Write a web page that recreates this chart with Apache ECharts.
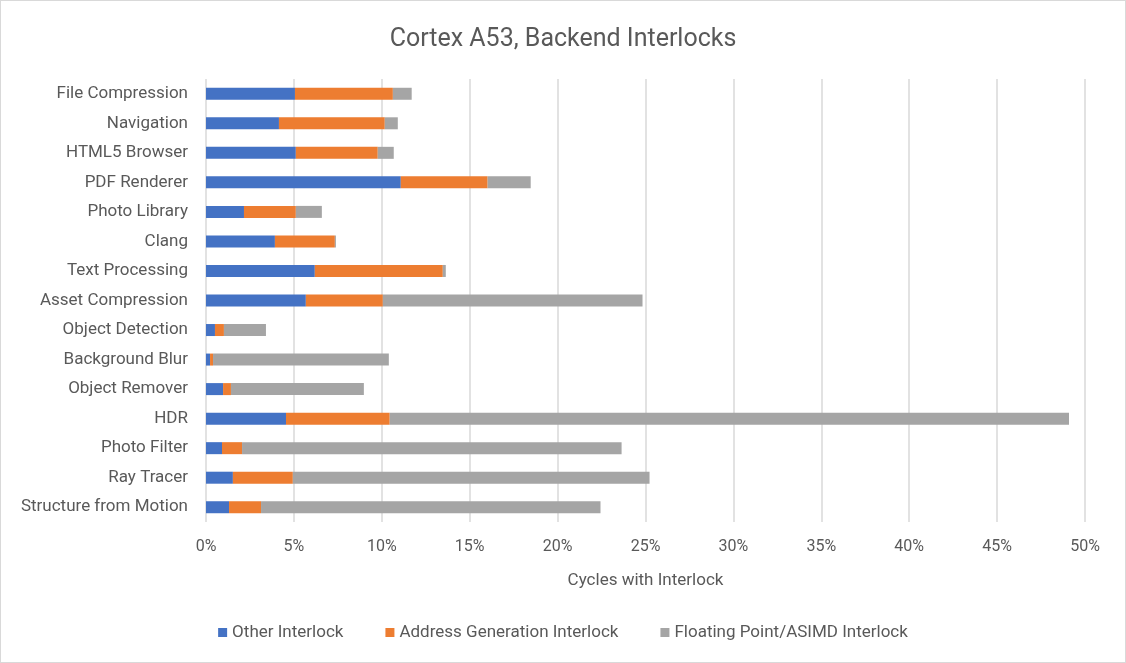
<!DOCTYPE html>
<html>
<head>
<meta charset="utf-8">
<script src="https://cdn.jsdelivr.net/npm/echarts@6/dist/echarts.min.js"></script>
<style>
  html, body { margin: 0; padding: 0; background: #fff; }
  #chart { width: 1124px; height: 661px; border: 1px solid #d9d9d9; }
</style>
</head>
<body>
<div id="chart"></div>
<script>
// workloads, top to bottom
const categories = [
  'File Compression', 'Navigation', 'HTML5 Browser', 'PDF Renderer', 'Photo Library',
  'Clang', 'Text Processing', 'Asset Compression', 'Object Detection', 'Background Blur',
  'Object Remover', 'HDR', 'Photo Filter', 'Ray Tracer', 'Structure from Motion'
];

// percent of cycles, per segment
const otherInterlock = [5.06, 4.15, 5.11, 11.08, 2.16, 3.92, 6.19, 5.68, 0.51, 0.23, 0.97, 4.55, 0.91, 1.53, 1.31];
const addrGenInterlock = [5.57, 6.02, 4.66, 4.94, 2.95, 3.41, 7.28, 4.38, 0.51, 0.17, 0.45, 5.90, 1.14, 3.41, 1.82];
const fpAsimdInterlock = [1.07, 0.74, 0.91, 2.45, 1.48, 0.06, 0.17, 14.77, 2.39, 10.00, 7.56, 38.64, 21.59, 20.29, 19.31];

const xTicks = [0, 5, 10, 15, 20, 25, 30, 35, 40, 45, 50];

const chart = echarts.init(document.getElementById('chart'));
const font = 'Roboto, "Liberation Sans", sans-serif';
const textGrey = '#595959';

function makeSeries(name, data, color) {
  return {
    name: name,
    type: 'bar',
    stack: 'total',
    barWidth: 12,
    data: data,
    itemStyle: { color: color },
    emphasis: { disabled: true }
  };
}

chart.setOption({
  animation: false,
  textStyle: { fontFamily: font },
  title: {
    text: 'Cortex A53, Backend Interlocks',
    left: 'center',
    top: 21,
    textStyle: { color: textGrey, fontSize: 25, fontWeight: 'normal', fontFamily: font }
  },
  legend: {
    bottom: 16,
    left: 'center',
    itemWidth: 9,
    itemHeight: 9,
    itemGap: 42,
    icon: 'rect',
    textStyle: { color: textGrey, fontSize: 17, fontFamily: font },
    data: ['Other Interlock', 'Address Generation Interlock', 'Floating Point/ASIMD Interlock']
  },
  grid: { left: 205, right: 40, top: 78, bottom: 140, containLabel: false },
  xAxis: {
    type: 'value',
    min: xTicks[0],
    max: xTicks[xTicks.length - 1],
    interval: 5,
    name: 'Cycles with Interlock',
    nameLocation: 'middle',
    nameGap: 50,
    nameTextStyle: { color: textGrey, fontSize: 17 },
    axisLabel: { formatter: v => v + '%', color: textGrey, fontSize: 16, margin: 17 },
    axisLine: { show: false },
    axisTick: { show: false },
    splitLine: { lineStyle: { color: '#d9d9d9', width: 1.5 } }
  },
  yAxis: {
    type: 'category',
    inverse: true,
    data: categories,
    axisLabel: { color: textGrey, fontSize: 17, margin: 18 },
    axisLine: { show: false },
    axisTick: { show: false }
  },
  series: [
    makeSeries('Other Interlock', otherInterlock, '#4472c4'),
    makeSeries('Address Generation Interlock', addrGenInterlock, '#ed7d31'),
    makeSeries('Floating Point/ASIMD Interlock', fpAsimdInterlock, '#a5a5a5')
  ]
});

window.addEventListener('resize', () => chart.resize());
</script>
</body>
</html>
